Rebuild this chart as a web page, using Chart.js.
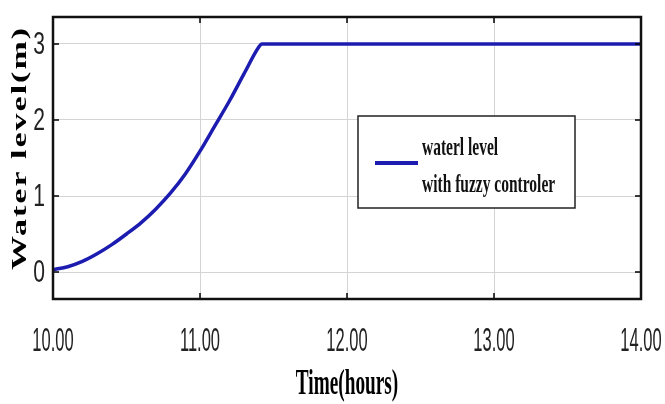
<!DOCTYPE html>
<html>
<head>
<meta charset="utf-8">
<script src="https://cdn.jsdelivr.net/npm/chart.js@4/dist/chart.umd.min.js"></script>
<style>
  html, body { margin: 0; padding: 0; background: #fff; }
  #wrap { width: 665px; height: 404px; }
</style>
</head>
<body>
<div id="wrap"><canvas id="chart" width="665" height="404"></canvas></div>
<script>
// Tank water level under the fuzzy controller (hours vs metres)
const hours = [10.0, 10.1, 10.2, 10.3, 10.4, 10.5, 10.6, 10.7, 10.8, 10.9, 11.0, 11.1, 11.2, 11.3, 11.4, 11.42, 14.0];
const waterLevel = [0.03, 0.07, 0.14, 0.24, 0.36, 0.50, 0.65, 0.83, 1.04, 1.29, 1.59, 1.92, 2.25, 2.61, 2.96, 3.0, 3.0];
const xTicks = [10, 11, 12, 13, 14];
const yTicks = [0, 1, 2, 3];
const seriesLabel = ['waterl level', 'with fuzzy controler'];
const xTitle = 'Time(hours)';
const yTitle = 'Water level(m)';

const LINE_COLOR = '#1c1cb0';
const GRID_COLOR = '#d4d4d4';
const SANS = "'Liberation Sans', Arial, sans-serif";
const SERIF = "'Liberation Serif', 'Times New Roman', serif";

// draws text squeezed horizontally (condensed look of the original figure)
function squeezed(ctx, text, x, y, font, sx, align, baseline) {
    ctx.save();
    ctx.font = font;
    ctx.textAlign = align;
    ctx.textBaseline = baseline;
    ctx.translate(x, y);
    ctx.scale(sx, 1);
    ctx.fillText(text, 0, 0);
    ctx.restore();
}

// frame, inward ticks, tick labels, titles and legend
const decorations = {
    id: 'decorations',
    afterDatasetsDraw(chart) {
        const { ctx, chartArea: a, scales: { x, y } } = chart;

        ctx.save();
        // inward tick marks
        ctx.strokeStyle = '#000';
        ctx.lineWidth = 1.5;
        ctx.beginPath();
        xTicks.forEach(v => {
            const px = x.getPixelForValue(v);
            ctx.moveTo(px, a.top); ctx.lineTo(px, a.top + 6);
            ctx.moveTo(px, a.bottom); ctx.lineTo(px, a.bottom - 6);
        });
        yTicks.forEach(v => {
            const py = y.getPixelForValue(v);
            ctx.moveTo(a.left, py); ctx.lineTo(a.left + 6, py);
            ctx.moveTo(a.right, py); ctx.lineTo(a.right - 6, py);
        });
        ctx.stroke();

        // plot frame
        ctx.lineWidth = 2.5;
        ctx.strokeStyle = '#111';
        ctx.strokeRect(a.left, a.top, a.right - a.left, a.bottom - a.top);

        // tick labels
        ctx.fillStyle = '#222';
        xTicks.forEach(v => {
            squeezed(ctx, v.toFixed(2), x.getPixelForValue(v), a.bottom + 52,
                '33px ' + SANS, 0.5, 'center', 'alphabetic');
        });
        yTicks.forEach(v => {
            squeezed(ctx, String(v), a.left - 8, y.getPixelForValue(v) + 1,
                '31px ' + SANS, 0.68, 'right', 'middle');
        });

        // axis titles
        ctx.fillStyle = '#000';
        squeezed(ctx, xTitle, (a.left + a.right) / 2, 394,
            'bold 35px ' + SERIF, 0.55, 'center', 'alphabetic');

        ctx.save();
        ctx.font = 'bold 34px ' + SERIF;
        ctx.letterSpacing = '2px';
        ctx.textAlign = 'center';
        ctx.textBaseline = 'middle';
        ctx.translate(21, 148);
        ctx.scale(0.6, 1);
        ctx.rotate(-Math.PI / 2);
        ctx.fillText(yTitle, 0, 0);
        ctx.restore();

        // legend box
        const lx = 358, ly = 116, lw = 217, lh = 92;
        ctx.fillStyle = '#fff';
        ctx.fillRect(lx, ly, lw, lh);
        ctx.lineWidth = 1.5;
        ctx.strokeStyle = '#222';
        ctx.strokeRect(lx, ly, lw, lh);

        ctx.strokeStyle = LINE_COLOR;
        ctx.lineWidth = 4;
        ctx.beginPath();
        ctx.moveTo(lx + 17, ly + 47);
        ctx.lineTo(lx + 60, ly + 47);
        ctx.stroke();

        ctx.fillStyle = '#111';
        squeezed(ctx, seriesLabel[0], lx + 64, ly + 39, 'bold 25px ' + SERIF, 0.62, 'left', 'alphabetic');
        squeezed(ctx, seriesLabel[1], lx + 64, ly + 76, 'bold 25px ' + SERIF, 0.62, 'left', 'alphabetic');

        ctx.restore();
    }
};

new Chart(document.getElementById('chart'), {
    type: 'line',
    data: {
        datasets: [{
            label: seriesLabel.join(' '),
            data: hours.map((h, i) => ({ x: h, y: waterLevel[i] })),
            borderColor: LINE_COLOR,
            borderWidth: 3.5,
            pointRadius: 0,
            cubicInterpolationMode: 'monotone',
            fill: false
        }]
    },
    options: {
        responsive: false,
        devicePixelRatio: 1,
        animation: false,
        layout: { padding: { top: 17, right: 24, left: 0, bottom: 0 } },
        plugins: {
            legend: { display: false },
            tooltip: { enabled: false }
        },
        scales: {
            x: {
                type: 'linear',
                min: 10,
                max: 14,
                afterBuildTicks: s => { s.ticks = xTicks.map(v => ({ value: v })); },
                afterFit: s => { s.height = 105; },
                ticks: { display: false },
                grid: { color: GRID_COLOR, lineWidth: 1, drawTicks: false },
                border: { display: false }
            },
            y: {
                type: 'linear',
                min: -0.355,
                max: 3.355,
                afterBuildTicks: s => { s.ticks = yTicks.map(v => ({ value: v })); },
                afterFit: s => { s.width = 53; },
                ticks: { display: false },
                grid: { color: GRID_COLOR, lineWidth: 1, drawTicks: false },
                border: { display: false }
            }
        }
    },
    plugins: [decorations]
});
</script>
</body>
</html>
